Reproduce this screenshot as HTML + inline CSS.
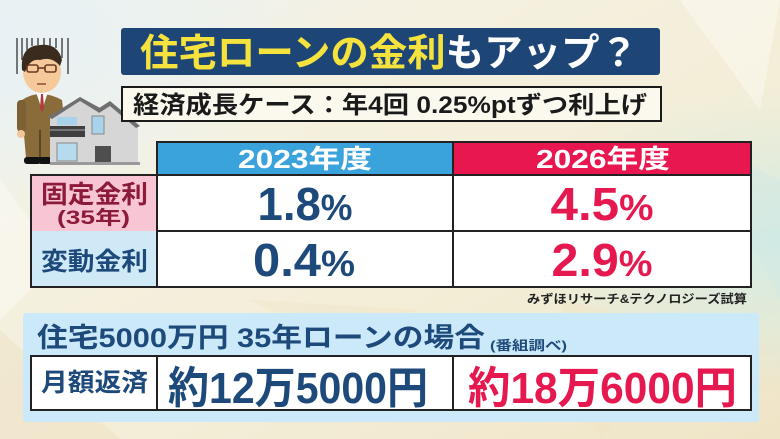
<!DOCTYPE html>
<html><head><meta charset="utf-8"><style>
html,body{margin:0;padding:0;background:#f4efdd;}
svg{display:block;}
text{font-family:"Liberation Sans","Noto Sans CJK JP",sans-serif;font-weight:bold;}
</style></head><body>
<svg width="780" height="439" viewBox="0 0 780 439" xmlns="http://www.w3.org/2000/svg">
<defs>
<linearGradient id="bg" x1="0" y1="0" x2="1" y2="1">
<stop offset="0" stop-color="#edf2f2"/>
<stop offset="0.3" stop-color="#f5f1e0"/>
<stop offset="0.7" stop-color="#f3ecd4"/>
<stop offset="1" stop-color="#efe4c6"/>
</linearGradient>
<radialGradient id="mint" cx="1" cy="0.55" r="0.35">
<stop offset="0" stop-color="#d3ece4" stop-opacity="1"/>
<stop offset="1" stop-color="#d3ece4" stop-opacity="0"/>
</radialGradient>
<radialGradient id="tl" cx="0" cy="0.1" r="0.4">
<stop offset="0" stop-color="#e8f1f4" stop-opacity="1"/>
<stop offset="1" stop-color="#e8f1f4" stop-opacity="0"/>
</radialGradient>
</defs>
<rect width="780" height="439" fill="url(#bg)"/>
<rect width="780" height="439" fill="url(#mint)"/>
<rect width="780" height="439" fill="url(#tl)"/>
<g opacity="0.35">
<polygon points="0,180 60,260 0,320" fill="#ffffff"/>
<polygon points="680,0 780,0 760,110" fill="#ffffff"/>
<polygon points="560,300 700,330 600,439" fill="#f0e2bf"/>
<polygon points="0,330 120,439 0,439" fill="#e9dbb8"/>
<polygon points="250,300 420,310 330,340" fill="#efe3c2"/>
<polygon points="700,140 780,180 780,300" fill="#cfe9e6"/>
</g>

<!-- illustration: gloom lines -->
<g stroke="#333" stroke-width="1.3">
<line x1="17" y1="38" x2="17" y2="74"/>
<line x1="22" y1="38" x2="22" y2="60"/>
<line x1="27" y1="38" x2="27" y2="50"/>
<line x1="32" y1="38" x2="32" y2="46"/>
<line x1="38" y1="38" x2="38" y2="45"/>
<line x1="44" y1="38" x2="44" y2="45"/>
<line x1="50" y1="38" x2="50" y2="46"/>
<line x1="56" y1="38" x2="56" y2="48"/>
<line x1="62" y1="38" x2="62" y2="58"/>
<line x1="68" y1="38" x2="68" y2="74"/>
</g>
<!-- man -->
<path d="M22,100 Q40,88 62,100 L66,135 L60,135 L58,158 L26,158 L24,135 L18,135 Z" fill="#8a6b3a"/>
<rect x="17" y="100" width="9" height="32" rx="4" fill="#7d6033"/>
<ellipse cx="21" cy="134" rx="4" ry="4" fill="#f3c59a"/>
<polygon points="36,92 48,92 42,110" fill="#ffffff"/>
<polygon points="41,94 43,94 44,108 42,112 40,108" fill="#b33a3a"/>
<rect x="39" y="130" width="2" height="28" fill="#5c4426"/>
<rect x="24" y="157" width="17" height="7" rx="3" fill="#111"/>
<rect x="38" y="157" width="14" height="7" rx="3" fill="#111"/>
<ellipse cx="42" cy="72" rx="19" ry="21" fill="#f6c99b"/>
<path d="M22,70 Q20,46 40,45 Q58,43 62,60 L60,66 Q52,56 40,60 Q30,58 25,72 Z" fill="#3b2a1e"/>
<g fill="none" stroke="#6b3a22" stroke-width="1.6">
<rect x="27" y="65" width="11" height="7" rx="2"/>
<rect x="45" y="65" width="11" height="7" rx="2"/>
<line x1="38" y1="68" x2="45" y2="68"/>
</g>
<line x1="37" y1="84" x2="46" y2="84" stroke="#7a3b2a" stroke-width="1.3"/>
<!-- house -->
<polygon points="50,116 80,98 100,108 110,102 138,124 138,165 50,165" fill="#d6d6d6"/>
<polygon points="48,117 80,97 100,108 98,112 80,101 52,119" fill="#6f6f6f"/>
<polygon points="96,110 110,101 140,126 136,128 110,106 99,113" fill="#6f6f6f"/>
<rect x="50" y="126" width="35" height="11" fill="#3f3f3f"/>
<rect x="50" y="129" width="35" height="2" fill="#777"/>
<rect x="92" y="116" width="12" height="18" fill="#a9d3ea" stroke="#888" stroke-width="1"/>
<rect x="57" y="117" width="20" height="8" fill="#a9d3ea"/>
<rect x="57" y="143" width="20" height="18" fill="#b7dbee" stroke="#888" stroke-width="1"/>
<rect x="95" y="146" width="16" height="19" fill="#4e4e4e"/>
<rect x="50" y="162" width="90" height="3" fill="#9a9a9a"/>

<!-- title -->
<rect x="121" y="28" width="539" height="47" rx="3" fill="#1d4677"/>
<text x="140" y="66" font-size="38" textLength="498" lengthAdjust="spacingAndGlyphs"><tspan fill="#f6e23c">住宅ローンの金利</tspan><tspan fill="#ffffff">もアップ？</tspan></text>

<!-- subtitle -->
<rect x="122" y="87" width="539" height="34" fill="#fbf9ee" stroke="#1a1a1a" stroke-width="2"/>
<text x="133" y="113" font-size="24" fill="#1a1a1a" textLength="514" lengthAdjust="spacingAndGlyphs">経済成長ケース：年4回 0.25%ptずつ利上げ</text>

<!-- table -->
<rect x="157" y="142" width="296" height="33" fill="#3aa3dc"/>
<rect x="453" y="142" width="298" height="33" fill="#e8174f"/>
<rect x="31" y="175" width="126" height="56" fill="#f8c5d4"/>
<rect x="31" y="231" width="126" height="56" fill="#cfe9f7"/>
<rect x="157" y="175" width="594" height="112" fill="#ffffff"/>
<g stroke="#222" stroke-width="2" fill="none">
<rect x="157" y="142" width="594" height="145"/>
<rect x="31" y="175" width="720" height="112"/>
<line x1="157" y1="231" x2="751" y2="231"/>
<line x1="453" y1="142" x2="453" y2="287"/>
<line x1="157" y1="175" x2="751" y2="175"/>
</g>
<text x="305" y="168" font-size="26" fill="#ffffff" text-anchor="middle" textLength="134" lengthAdjust="spacingAndGlyphs">2023年度</text>
<text x="603" y="168" font-size="26" fill="#ffffff" text-anchor="middle" textLength="134" lengthAdjust="spacingAndGlyphs">2026年度</text>
<text x="41" y="203" font-size="25" fill="#8c1b3b" textLength="107" lengthAdjust="spacingAndGlyphs">固定金利</text>
<text x="57" y="224" font-size="19" fill="#8c1b3b" textLength="73" lengthAdjust="spacingAndGlyphs">(35年)</text>
<text x="41" y="270" font-size="25" fill="#1d4a7a" textLength="107" lengthAdjust="spacingAndGlyphs">変動金利</text>

<text x="305" y="220" font-size="46" fill="#1d4a7a" text-anchor="middle" textLength="95" lengthAdjust="spacingAndGlyphs">1.8<tspan font-size="36">%</tspan></text>
<text x="304" y="276" font-size="46" fill="#1d4a7a" text-anchor="middle" textLength="102" lengthAdjust="spacingAndGlyphs">0.4<tspan font-size="36">%</tspan></text>
<text x="602" y="220" font-size="46" fill="#e5194f" text-anchor="middle" textLength="103" lengthAdjust="spacingAndGlyphs">4.5<tspan font-size="36">%</tspan></text>
<text x="602" y="276" font-size="46" fill="#e5194f" text-anchor="middle" textLength="101" lengthAdjust="spacingAndGlyphs">2.9<tspan font-size="36">%</tspan></text>

<text x="747" y="303" font-size="12" fill="#222" text-anchor="end" textLength="220" lengthAdjust="spacingAndGlyphs">みずほリサーチ&amp;テクノロジーズ試算</text>

<!-- bottom panel -->
<rect x="23" y="313" width="736" height="109" rx="3" fill="#cbe9f8"/>
<text x="37" y="347" font-size="27" fill="#1d4a7a" textLength="448" lengthAdjust="spacingAndGlyphs">住宅5000万円 35年ローンの場合</text>
<text x="490" y="350" font-size="13" fill="#1d4a7a" textLength="77" lengthAdjust="spacingAndGlyphs">(番組調べ)</text>
<rect x="31" y="356" width="720" height="54" fill="#ffffff" stroke="#222" stroke-width="2"/>
<line x1="157" y1="356" x2="157" y2="410" stroke="#222" stroke-width="2"/>
<line x1="453" y1="356" x2="453" y2="410" stroke="#222" stroke-width="2"/>
<text x="41" y="391" font-size="25" fill="#1d4a7a" textLength="107" lengthAdjust="spacingAndGlyphs">月額返済</text>
<text x="168" y="403" font-size="44" fill="#1d4a7a" textLength="260" lengthAdjust="spacingAndGlyphs">約12万5000円</text>
<text x="468" y="403" font-size="44" fill="#e5194f" textLength="269" lengthAdjust="spacingAndGlyphs">約18万6000円</text>
</svg>
</body></html>
